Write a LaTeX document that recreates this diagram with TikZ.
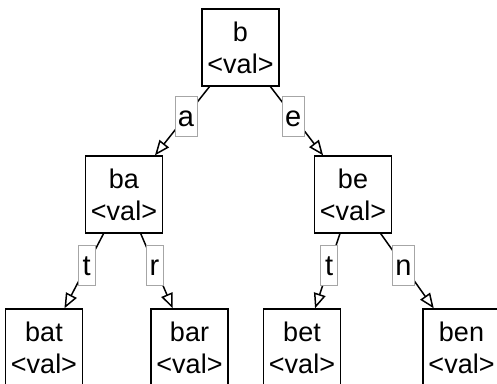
\documentclass[tikz,border=0pt]{standalone}
\usepackage{fontspec}
\setmainfont{Liberation Sans}
\usetikzlibrary{arrows.meta}
\begin{document}
\begin{tikzpicture}[x=1pt,y=-1pt,
  trienode/.style={draw=black, line width=1.3pt, fill=white, minimum width=77pt,
    minimum height=77pt, inner sep=0pt, align=center,
    font=\fontsize{27}{32}\selectfont},
  edgelabel/.style={draw=gray!70, line width=0.9pt, fill=white, inner xsep=3pt,
    inner ysep=3pt, text height=27pt, text depth=7pt, minimum width=17pt,
    font=\fontsize{29}{32}\selectfont, pos=0.43},
  link/.style={line width=1.5pt, -{Triangle[open, length=15pt, width=12pt, line width=1.5pt]}}]
  \useasboundingbox (0,0) rectangle (497,383);
  \clip (0,0) rectangle (497,383);

  % trie nodes
  \node[trienode] (b)   at (240.5,47.5)  {b\\<val>};
  \node[trienode] (ba)  at (124,194.5)   {ba\\<val>};
  \node[trienode] (be)  at (353,194.5)   {be\\<val>};
  \node[trienode] (bat) at (44,347.5)    {bat\\<val>};
  \node[trienode] (bar) at (189.5,347.5) {bar\\<val>};
  \node[trienode] (bet) at (302,347.5)   {bet\\<val>};
  \node[trienode] (ben) at (461.5,347.5) {ben\\<val>};

  % labelled links between nodes
  \draw[link] (b)  -- node[edgelabel] {a} (ba);
  \draw[link] (b)  -- node[edgelabel] {e} (be);
  \draw[link] (ba) -- node[edgelabel] {t} (bat);
  \draw[link] (ba) -- node[edgelabel] {r} (bar);
  \draw[link] (be) -- node[edgelabel] {t} (bet);
  \draw[link] (be) -- node[edgelabel] {n} (ben);
\end{tikzpicture}
\end{document}
